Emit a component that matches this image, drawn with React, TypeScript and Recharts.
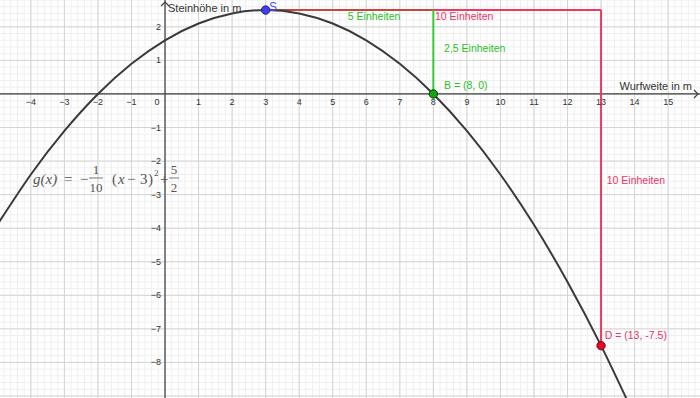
import React from "react";
import {
  ComposedChart,
  XAxis,
  YAxis,
  CartesianGrid,
  Line,
  Scatter,
  ReferenceLine,
} from "recharts";

const W = 700;
const H = 398;
const X_DOMAIN = [-4.92, 15.95];
const Y_DOMAIN = [-9.06, 2.8];

// g(x) at whole steps
const curveX = [-5, -4, -3, -2, -1, 0, 1, 2, 3, 4, 5, 6, 7, 8, 9, 10, 11, 12, 13, 14];
const curveY = [-3.9, -2.4, -1.1, 0, 0.9, 1.6, 2.1, 2.4, 2.5, 2.4, 2.1, 1.6, 0.9, 0, -1.1, -2.4, -3.9, -5.6, -7.5, -9.6];

const xTicks = [-4, -3, -2, -1, 0, 1, 2, 3, 4, 5, 6, 7, 8, 9, 10, 11, 12, 13, 14, 15];
const yTicks = [2, 1, -1, -2, -3, -4, -5, -6, -7, -8];

const pointNames = ["S", "B", "D"];
const pointX = [3, 8, 13];
const pointY = [2.5, 0, -7.5];

const annoText = ["5 Einheiten", "10 Einheiten", "2,5 Einheiten", "B = (8, 0)", "10 Einheiten", "D = (13, -7.5)", "S"];
const annoX = [5.45, 8.05, 8.32, 8.32, 13.17, 13.11, 3.1];
const annoY = [2.2, 2.2, 1.25, 0.15, -2.68, -7.3, 2.47];
const annoKind = ["green", "red", "green", "green", "red", "red", "blue"];

const RED = "#f0385e";
const GREEN = "#33cc33";
const FONT = "'Liberation Sans', Arial, sans-serif";
const SERIF = "'Liberation Serif', 'Times New Roman', serif";

const textColor: Record<string, string> = {
  green: "#2bbf2b",
  red: "#ee3366",
  blue: "#5050ff",
};

function steps(from: number, to: number, step: number) {
  const out: number[] = [];
  for (let v = from; v <= to + 1e-9; v += step) out.push(Math.round(v * 100) / 100);
  return out;
}

// grid positions in pixels (plot area fills the whole chart, margin 0)
const gx = (v: number) => ((v - X_DOMAIN[0]) / (X_DOMAIN[1] - X_DOMAIN[0])) * W;
const gy = (v: number) => ((Y_DOMAIN[1] - v) / (Y_DOMAIN[1] - Y_DOMAIN[0])) * H;
const minorX = steps(-4.8, 15.8, 0.2).map(gx);
const minorY = steps(-9, 2.8, 0.2).map(gy);
const majorX = steps(-4, 15, 1).map(gx);
const majorY = steps(-9, 2, 1).map(gy);

const curveData = curveX.map((x, i) => ({ x, y: curveY[i] }));
const points = pointNames.map((name, i) => ({ name, x: pointX[i], y: pointY[i] }));
const annos = annoText.map((text, i) => ({ text, x: annoX[i], y: annoY[i], kind: annoKind[i] }));
const xTickData = xTicks.map((x) => ({ x, y: 0 }));
const yTickData = yTicks.map((y) => ({ x: 0, y }));

const pointStyle: Record<string, { fill: string; stroke: string }> = {
  S: { fill: "#4040f0", stroke: "#20206a" },
  B: { fill: "#10a810", stroke: "#0b3a0b" },
  D: { fill: "#e0062e", stroke: "#6a0a18" },
};

const minus = (v: number) => (v < 0 ? "\u2212" + Math.abs(v) : String(v));

function Formula() {
  const c = "#555";
  return (
    <svg width={W} height={H} style={{ position: "absolute", left: 0, top: 0, pointerEvents: "none" }}>
      <g fill={c} fontFamily={SERIF} fontSize={15}>
        <text x={33} y={184} fontStyle="italic">g(x)</text>
        <text x={64} y={184}>=</text>
        <text x={80} y={184}>{"\u2212"}</text>
        <text x={96} y={174} fontSize={13} textAnchor="middle">1</text>
        <line x1={89} x2={103} y1={178} y2={178} stroke={c} strokeWidth={0.8} />
        <text x={96} y={192} fontSize={13} textAnchor="middle">10</text>
        <text x={112} y={184}>(</text>
        <text x={118} y={184} fontStyle="italic">x</text>
        <text x={127} y={184}>{"\u2212"}</text>
        <text x={140} y={184}>3</text>
        <text x={148} y={184}>)</text>
        <text x={154} y={176} fontSize={9}>2</text>
        <text x={160} y={184}>+</text>
        <text x={174} y={174} fontSize={13} textAnchor="middle">5</text>
        <line x1={169} x2={179} y1={178} y2={178} stroke={c} strokeWidth={0.8} />
        <text x={174} y={192} fontSize={13} textAnchor="middle">2</text>
      </g>
    </svg>
  );
}

export default function App() {
  return (
    <div style={{ position: "absolute", left: 0, top: 0, width: W, height: H, background: "#fff" }}>
      <ComposedChart width={W} height={H} margin={{ top: 0, right: 0, bottom: 0, left: 0 }}>
        <XAxis dataKey="x" type="number" domain={X_DOMAIN} allowDataOverflow hide />
        <YAxis type="number" domain={Y_DOMAIN} allowDataOverflow hide />

        <CartesianGrid verticalPoints={minorX} horizontalPoints={minorY} stroke="#efefef" strokeWidth={1} />
        <CartesianGrid verticalPoints={majorX} horizontalPoints={majorY} stroke="#d4d4d4" strokeWidth={1} />

        <ReferenceLine y={0} stroke="#404040" strokeWidth={1.2} />
        <ReferenceLine x={0} stroke="#404040" strokeWidth={1.2} />

        {/* tick labels along the crossing axes */}
        <Scatter
          data={xTickData}
          dataKey="y"
          isAnimationActive={false}
          shape={(p: any) => (
            <text
              x={p.cx + (p.payload.x === 0 ? -8 : 0)}
              y={p.cy + 11}
              textAnchor="middle"
              fontSize={9}
              fontFamily={FONT}
              fill="#333"
            >
              {minus(p.payload.x)}
            </text>
          )}
        />
        <Scatter
          data={yTickData}
          dataKey="y"
          isAnimationActive={false}
          shape={(p: any) => (
            <text x={p.cx - 4} y={p.cy + 3} textAnchor="end" fontSize={9} fontFamily={FONT} fill="#333">
              {minus(p.payload.y)}
            </text>
          )}
        />
        {/* axis arrows and titles */}
        <Scatter
          data={[{ x: X_DOMAIN[1], y: 0 }]}
          dataKey="y"
          isAnimationActive={false}
          shape={(p: any) => (
            <g>
              <path d={`M${p.cx - 6},${p.cy - 4} L${p.cx - 2},${p.cy} L${p.cx - 6},${p.cy + 4}`} stroke="#404040" fill="none" strokeWidth={1.2} />
              <text x={p.cx - 8} y={p.cy - 4} textAnchor="end" fontSize={11} fontFamily={FONT} fill="#333">
                Wurfweite in m
              </text>
            </g>
          )}
        />
        <Scatter
          data={[{ x: 0, y: Y_DOMAIN[1] }]}
          dataKey="y"
          isAnimationActive={false}
          shape={(p: any) => (
            <g>
              <path d={`M${p.cx - 4},${p.cy + 6} L${p.cx},${p.cy + 2} L${p.cx + 4},${p.cy + 6}`} stroke="#404040" fill="none" strokeWidth={1.2} />
              <text x={p.cx + 3} y={p.cy + 12} fontSize={11} fontFamily={FONT} fill="#333">
                Steinhöhe in m
              </text>
            </g>
          )}
        />

        {/* construction segments */}
        <ReferenceLine segment={[{ x: pointX[0], y: pointY[0] }, { x: pointX[2], y: pointY[0] }]} stroke={RED} strokeWidth={2} />
        <ReferenceLine segment={[{ x: pointX[0], y: pointY[0] }, { x: pointX[1], y: pointY[0] }]} stroke="#c4483c" strokeWidth={2} />
        <ReferenceLine segment={[{ x: pointX[1], y: pointY[0] }, { x: pointX[1], y: pointY[1] }]} stroke={GREEN} strokeWidth={2} />
        <ReferenceLine segment={[{ x: pointX[2], y: pointY[0] }, { x: pointX[2], y: pointY[2] }]} stroke={RED} strokeWidth={2} />

        <Line
          data={curveData}
          dataKey="y"
          type="natural"
          stroke="#3a3a3a"
          strokeWidth={2}
          dot={false}
          activeDot={false}
          isAnimationActive={false}
        />

        <Scatter
          data={points}
          dataKey="y"
          isAnimationActive={false}
          shape={(p: any) => {
            const s = pointStyle[p.payload.name];
            return <circle cx={p.cx} cy={p.cy} r={4.2} fill={s.fill} stroke={s.stroke} strokeWidth={1} />;
          }}
        />
        <Scatter
          data={annos}
          dataKey="y"
          isAnimationActive={false}
          shape={(p: any) => (
            <text
              x={p.cx}
              y={p.cy}
              fontSize={p.payload.kind === "blue" ? 12 : 10.5}
              fontFamily={FONT}
              fill={textColor[p.payload.kind]}
            >
              {p.payload.text}
            </text>
          )}
        />
      </ComposedChart>
      <Formula />
    </div>
  );
}
